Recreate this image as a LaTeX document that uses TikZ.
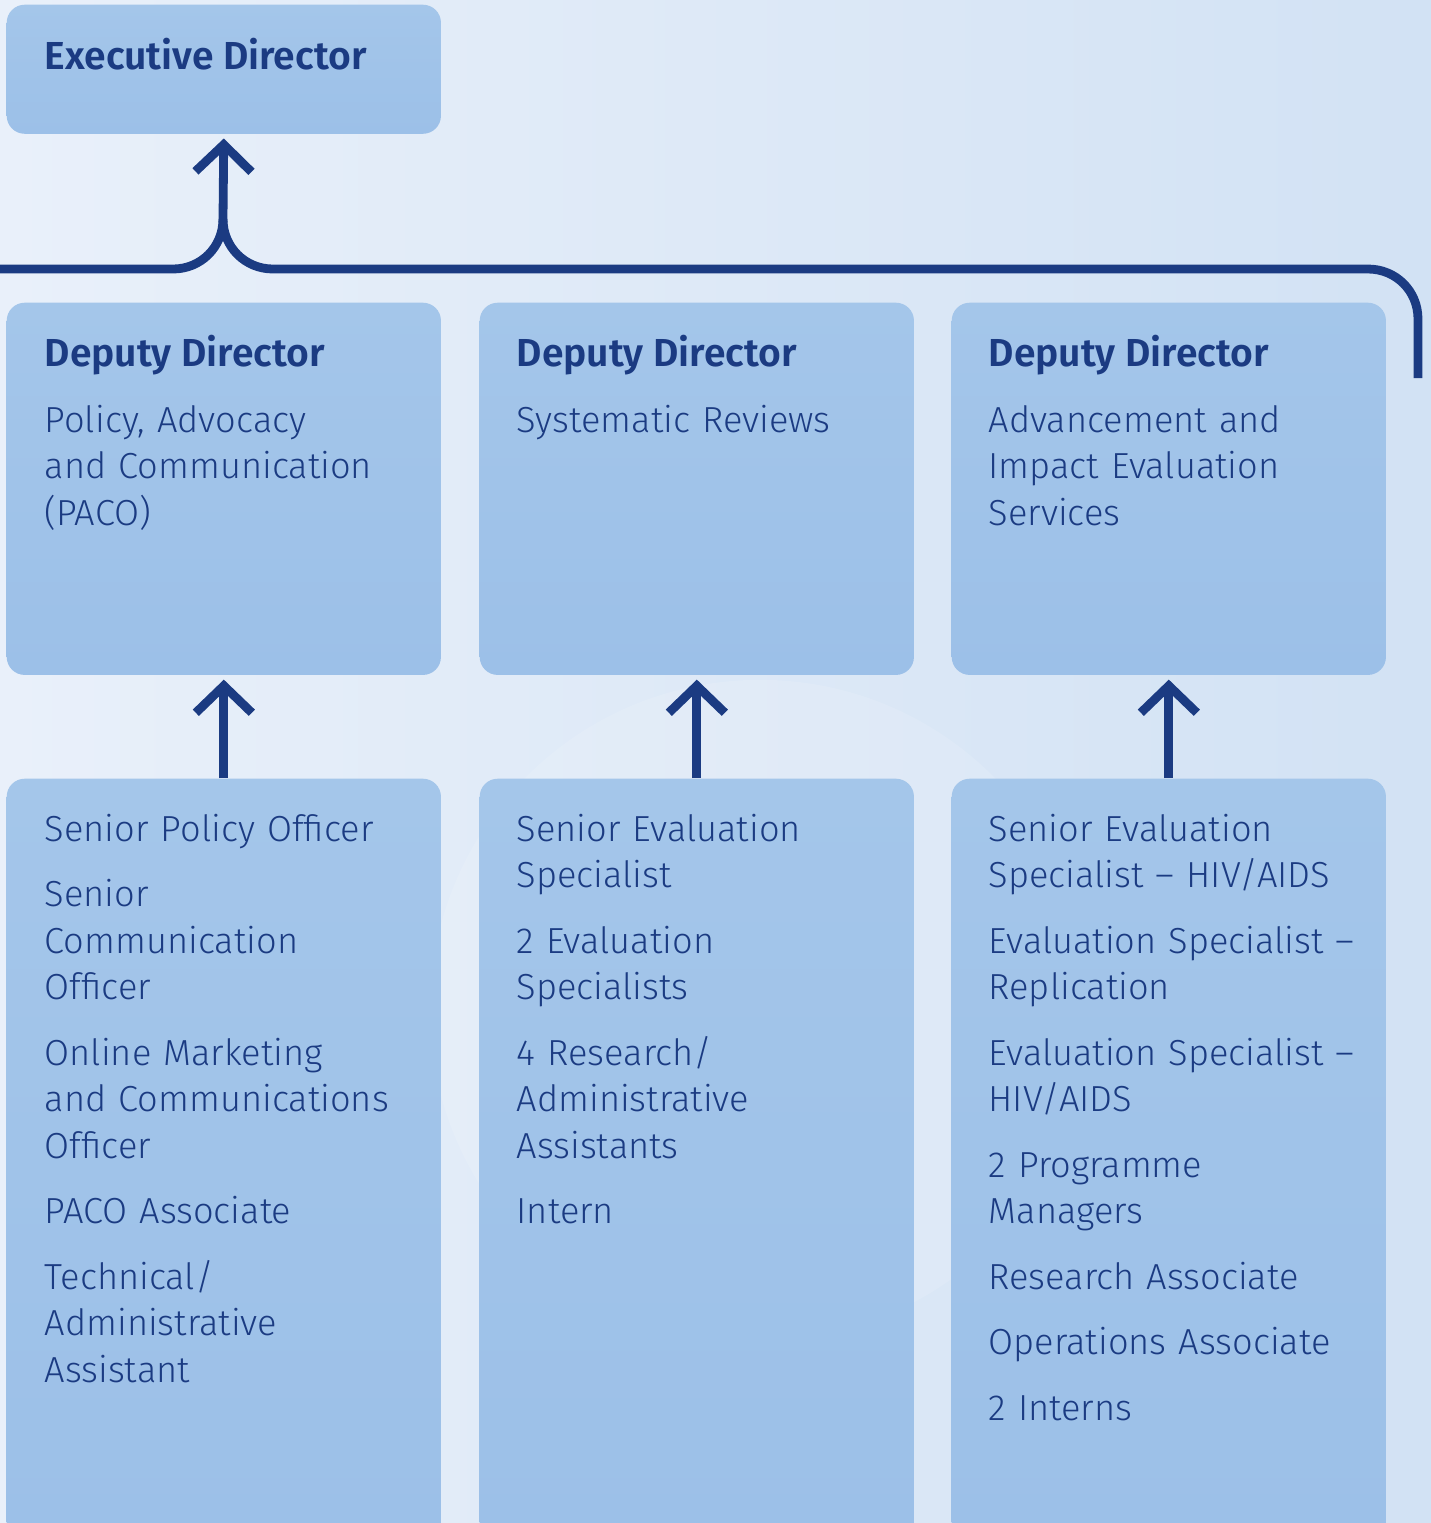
\documentclass[tikz,border=0pt]{standalone}
\usepackage{fontspec}
\setmainfont{Fira Sans}[UprightFont={* Light}, BoldFont={* SemiBold}]
\usetikzlibrary{arrows.meta}

\definecolor{navy}{HTML}{1B3B82}
\definecolor{boxblue}{HTML}{A4C6EA}
\definecolor{boxdeep}{HTML}{9CC0E8}
\definecolor{bglight}{HTML}{E9F0FA}
\definecolor{bgdeep}{HTML}{D2E2F4}

\tikzset{
  orgbox/.style={top color=boxblue, bottom color=boxdeep, rounded corners=0.18cm, inner sep=0pt, anchor=north west, minimum width=4.34cm},
  headtxt/.style={anchor=base west, inner sep=0pt, font=\bfseries\fontsize{11.1pt}{13pt}\selectfont, text=navy},
  bodytxt/.style={anchor=base west, inner sep=0pt, text width=4.3cm, align=left, font=\fontsize{10.3pt}{13.23pt}\selectfont, text=navy},
  link/.style={draw=navy, line width=0.088cm},
  uparrow/.style={link, shorten >=0.04cm, -{Straight Barb[length=0.27cm, width=0.56cm]}},
}
\newcommand{\gap}{\\[0.19cm]}

\begin{document}
\begin{tikzpicture}[x=0.01cm, y=-0.01cm]
\useasboundingbox (0,0) rectangle (1431,1523);
\clip (0,0) rectangle (1431,1523);
\fill[left color=bglight, right color=bgdeep] (0,0) rectangle (1431,1523);
\fill[white, opacity=0.12] (760,1010) circle (3.3cm);

% top
\node[orgbox, minimum height=1.29cm] (ed) at (6,4) {};
\node[headtxt] (edt) at (44,69) {Executive Director};

% deputies
\node[orgbox, minimum height=3.72cm] (d1) at (6,302) {};
\node[orgbox, minimum height=3.72cm] (d2) at (479,302) {};
\node[orgbox, minimum height=3.72cm] (d3) at (951,302) {};
\foreach \x/\n in {44/1, 516/2, 988/3}
	\node[headtxt] (dt\n) at (\x,366) {Deputy Director};
\node[bodytxt] (dp1) at (44,432) {Policy, Advocacy\\and Communication\\(PACO)};
\node[bodytxt] (dp2) at (516,432) {Systematic Reviews};
\node[bodytxt] (dp3) at (988,432) {Advancement and\\Impact Evaluation\\Services};

% staff
\node[orgbox, minimum height=7.62cm] (s1) at (6,778) {};
\node[orgbox, minimum height=7.62cm] (s2) at (479,778) {};
\node[orgbox, minimum height=7.62cm] (s3) at (951,778) {};
\node[bodytxt] (st1) at (44,841) {Senior Policy Officer\gap
	Senior\\Communication\\Officer\gap
	Online Marketing\\and Communications\\Officer\gap
	PACO Associate\gap
	Technical/\\Administrative\\Assistant};
\node[bodytxt] (st2) at (516,841) {Senior Evaluation\\Specialist\gap
	2 Evaluation\\Specialists\gap
	4 Research/\\Administrative\\Assistants\gap
	Intern};
\node[bodytxt] (st3) at (988,841) {Senior Evaluation\\Specialist – HIV/AIDS\gap
	Evaluation Specialist –\\Replication\gap
	Evaluation Specialist –\\HIV/AIDS\gap
	2 Programme\\Managers\gap
	Research Associate\gap
	Operations Associate\gap
	2 Interns};

% connectors
\coordinate (brL) at (0,269);
\coordinate (junc) at (223,219);
\coordinate (brR) at (1418,378);
\draw[link] (brL) -- (173,269) .. controls (201,269) and (223,247) .. (junc);
\draw[link] (junc) .. controls (223,247) and (245,269) .. (273,269) -- (1368,269)
	.. controls (1396,269) and (1418,291) .. (1418,319) -- (brR);
\draw[uparrow] (junc) -- (ed.south);
\foreach \n in {1,2,3}
	\draw[uparrow] (s\n.north) -- (d\n.south);
\end{tikzpicture}
\end{document}
